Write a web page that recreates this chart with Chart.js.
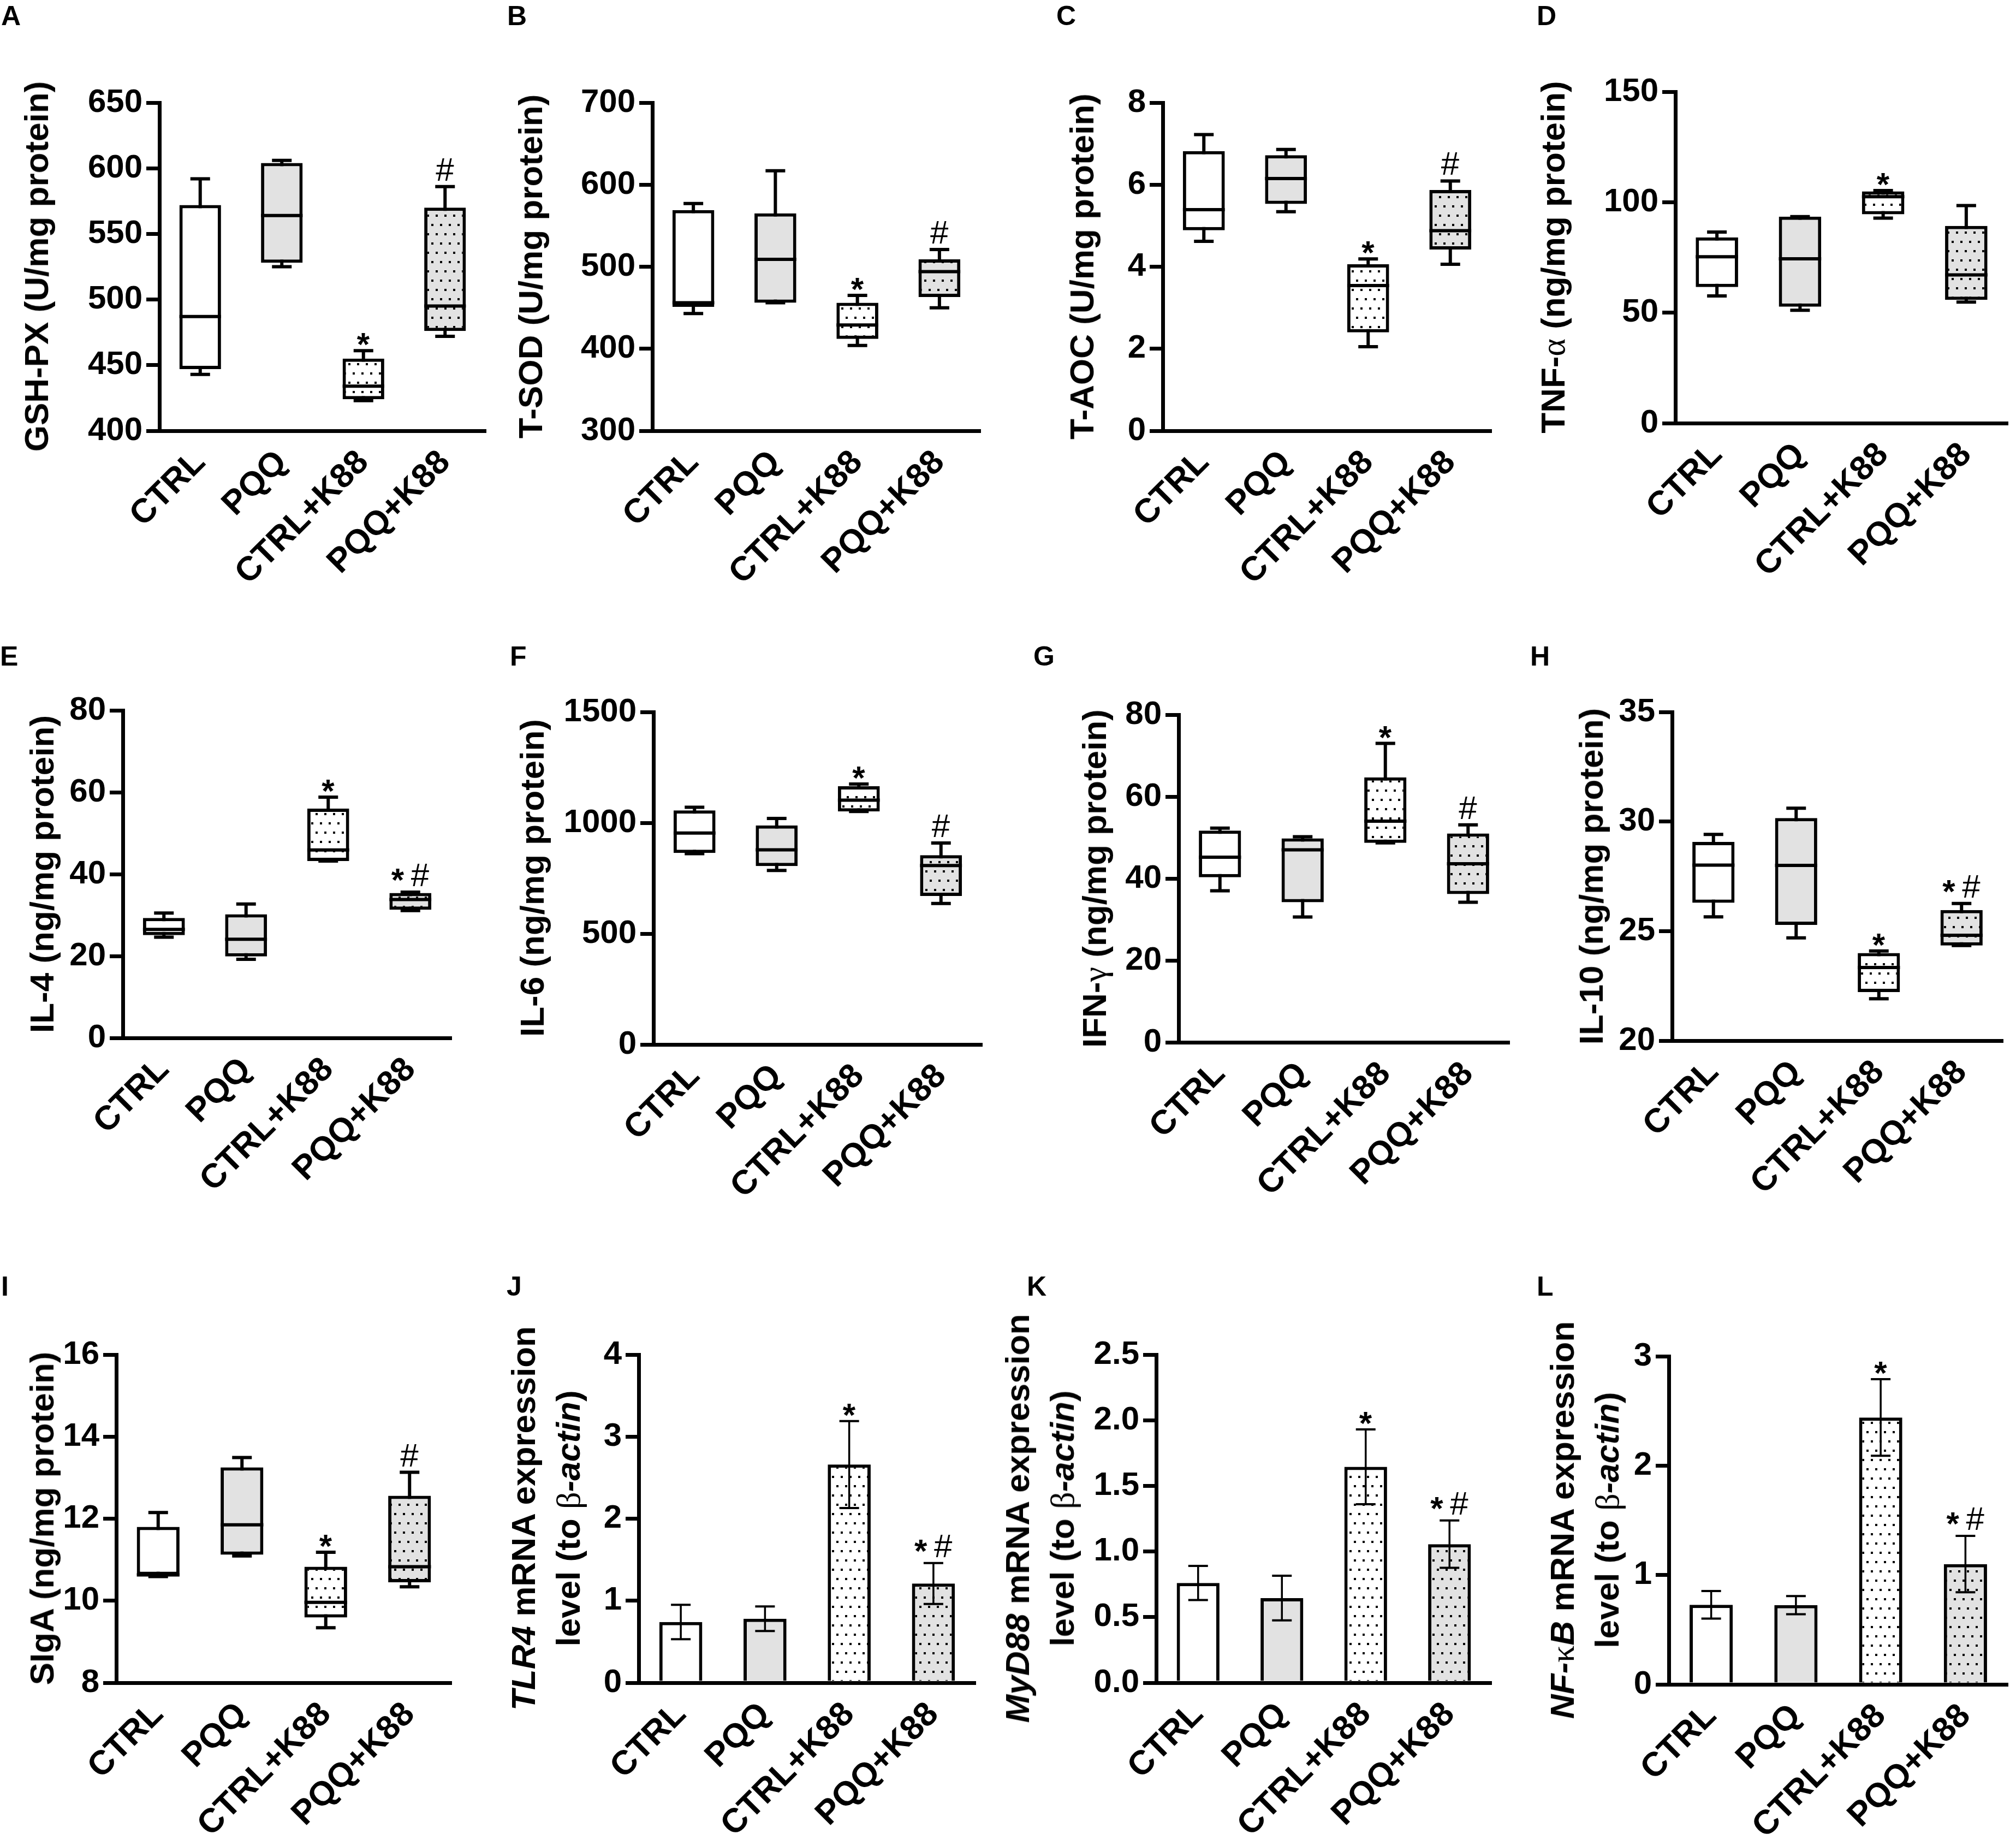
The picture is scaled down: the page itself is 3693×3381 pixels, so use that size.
<!DOCTYPE html>
<html>
<head>
<meta charset="utf-8">
<script src="https://cdn.jsdelivr.net/npm/chart.js@4.4.1/dist/chart.umd.min.js"></script>
<style>
  body { margin: 0; background: #fff; }
  #page { position: relative; width: 3693px; height: 3381px; background: #fff; overflow: hidden; }
  #page canvas { position: absolute; }
  .letter { position: absolute; font: bold 50px "Liberation Sans", Arial, sans-serif; line-height: 50px; color: #000; }
  .ytitle { position: absolute; font: bold 62px "Liberation Sans", Arial, sans-serif; line-height: 82px;
            white-space: nowrap; text-align: center; color: #000; transform: translate(-50%, -50%) rotate(-90deg); }
  .ytitle i { font-style: italic; }
  .ytitle .gr { font-family: "Liberation Serif", "DejaVu Serif", serif; font-weight: normal; }
</style>
</head>
<body>
<div id="page"></div>
<script>
//Groups on every x axis
const groups = ["CTRL", "PQQ", "CTRL+K88", "PQQ+K88"];

//Box plot values: min, Q1, median, Q3, max
const gshMin = [443, 525, 423, 472];
const gshQ1 = [447, 528, 424, 476];
const gshMed = [487, 564, 434, 495];
const gshQ3 = [572, 604, 455, 570];
const gshMax = [592, 606, 461, 586];
const gshTicks = [400, 450, 500, 550, 600, 650];

const sodMin = [443, 456, 404, 450];
const sodQ1 = [451, 456, 412, 463];
const sodMed = [456, 509, 429, 494];
const sodQ3 = [569, 565, 456, 509];
const sodMax = [577, 617, 465, 521];
const sodTicks = [300, 400, 500, 600, 700];

const aocMin = [4.62, 5.34, 2.05, 4.06];
const aocQ1 = [4.89, 5.53, 2.4, 4.42];
const aocMed = [5.39, 6.15, 3.54, 4.88];
const aocQ3 = [6.82, 6.72, 4.06, 5.87];
const aocMax = [7.22, 6.86, 4.19, 6.09];
const aocTicks = [0, 2, 4, 6, 8];

const tnfMin = [57.6, 51.1, 92.8, 54.8];
const tnfQ1 = [61.6, 52.7, 94.5, 55.8];
const tnfMed = [75.3, 74.4, 102.5, 67.1];
const tnfQ3 = [84.1, 93.5, 104.9, 89.3];
const tnfMax = [86.5, 93.5, 105.3, 98.5];
const tnfTicks = [0, 50, 100, 150];

const il4Min = [24.6, 19.2, 43.2, 31.1];
const il4Q1 = [25.1, 19.9, 43.2, 31.3];
const il4Med = [26.5, 24.1, 45.9, 33.8];
const il4Q3 = [29.3, 30.2, 56.0, 35.4];
const il4Max = [30.5, 32.7, 58.8, 35.6];
const il4Ticks = [0, 20, 40, 60, 80];

const il6Min = [861, 785, 1051, 636];
const il6Q1 = [864, 805, 1051, 670];
const il6Med = [954, 878, 1102, 807];
const il6Q3 = [1056, 988, 1165, 854];
const il6Max = [1070, 1020, 1175, 909];
const il6Ticks = [0, 500, 1000, 1500];

const ifnMin = [37.0, 30.6, 48.7, 34.2];
const ifnQ1 = [40.3, 34.2, 48.7, 36.2];
const ifnMed = [45.2, 47.0, 54.0, 43.6];
const ifnQ3 = [51.7, 49.8, 64.7, 51.0];
const ifnMax = [52.3, 50.2, 73.0, 53.1];
const ifnTicks = [0, 20, 40, 60, 80];

const il10Min = [25.65, 24.69, 21.91, 24.34];
const il10Q1 = [26.29, 25.28, 22.22, 24.34];
const il10Med = [28.01, 28.0, 23.34, 24.81];
const il10Q3 = [29.07, 30.16, 24.0, 25.96];
const il10Max = [29.41, 30.61, 24.09, 26.26];
const il10Ticks = [20, 25, 30, 35];

const sigaMin = [10.59, 11.09, 9.34, 10.34];
const sigaQ1 = [10.63, 11.12, 9.59, 10.45];
const sigaMed = [10.63, 11.85, 9.96, 10.83];
const sigaQ3 = [11.8, 13.25, 10.83, 12.56];
const sigaMax = [12.15, 13.49, 11.18, 13.13];
const sigaTicks = [8, 10, 12, 14, 16];

//Bar chart values: mean and error (SEM)
const tlr4Mean = [0.74, 0.78, 2.66, 1.21];
const tlr4Err = [0.21, 0.15, 0.53, 0.25];
const tlr4Ticks = [0, 1, 2, 3, 4];

const myd88Mean = [0.76, 0.645, 1.645, 1.056];
const myd88Err = [0.13, 0.17, 0.285, 0.18];
const myd88Ticks = [0, 0.5, 1.0, 1.5, 2.0, 2.5];

const nfkbMean = [0.728, 0.725, 2.44, 1.1];
const nfkbErr = [0.126, 0.083, 0.35, 0.258];
const nfkbTicks = [0, 1, 2, 3];

//Significance marks above each group
const marksA = ["", "", "*", "#"];
const marksB = ["", "", "*", "*#"];
const marksD = ["", "", "*", ""];

const FONT = '"Liberation Sans", Arial, sans-serif';
const GRAY = "#e2e2e2";
const page = document.getElementById("page");

//Dotted fill like the original hatch
function dotPattern(bg) {
  const c = document.createElement("canvas");
  c.width = 16;
  c.height = 34;
  const g = c.getContext("2d");
  g.fillStyle = bg;
  g.fillRect(0, 0, 16, 34);
  g.fillStyle = "#000";
  g.fillRect(2, 2, 4, 4);
  g.fillRect(10, 19, 4, 4);
  return g.createPattern(c, "repeat");
}
const fills = ["#ffffff", GRAY, dotPattern("#ffffff"), dotPattern(GRAY)];

//Panel table: data refs + where each panel sits (axis left, right, top, bottom)
const panels = [
  { letter: "A", at: [2, 10], box: [292, 890, 188, 789], titleAt: [67, 488], title: "GSH-PX (U/mg protein)",
    stats: [gshMin, gshQ1, gshMed, gshQ3, gshMax], ticks: gshTicks, marks: marksA },
  { letter: "B", at: [929, 10], box: [1195, 1796, 188, 789], titleAt: [972, 488], title: "T-SOD (U/mg protein)",
    stats: [sodMin, sodQ1, sodMed, sodQ3, sodMax], ticks: sodTicks, marks: marksA },
  { letter: "C", at: [1935, 10], box: [2130, 2732, 188, 789], titleAt: [1982, 488], title: "T-AOC (U/mg protein)",
    stats: [aocMin, aocQ1, aocMed, aocQ3, aocMax], ticks: aocTicks, marks: marksA },
  { letter: "D", at: [2815, 10], box: [3069, 3678, 168, 775], titleAt: [2845, 471],
    title: 'TNF-<span class="gr">α</span> (ng/mg protein)',
    stats: [tnfMin, tnfQ1, tnfMed, tnfQ3, tnfMax], ticks: tnfTicks, marks: marksD },
  { letter: "E", at: [0, 1183], box: [225, 827, 1301, 1901], titleAt: [77, 1601], title: "IL-4 (ng/mg protein)",
    stats: [il4Min, il4Q1, il4Med, il4Q3, il4Max], ticks: il4Ticks, marks: marksB },
  { letter: "F", at: [934, 1183], box: [1197, 1799, 1304, 1913], titleAt: [975, 1608], title: "IL-6 (ng/mg protein)",
    stats: [il6Min, il6Q1, il6Med, il6Q3, il6Max], ticks: il6Ticks, marks: marksA },
  { letter: "G", at: [1893, 1183], box: [2159, 2765, 1309, 1909], titleAt: [2005, 1609],
    title: 'IFN-<span class="gr">γ</span> (ng/mg protein)',
    stats: [ifnMin, ifnQ1, ifnMed, ifnQ3, ifnMax], ticks: ifnTicks, marks: marksA },
  { letter: "H", at: [2803, 1183], box: [3063, 3669, 1304, 1906], titleAt: [2915, 1605], title: "IL-10 (ng/mg protein)",
    stats: [il10Min, il10Q1, il10Med, il10Q3, il10Max], ticks: il10Ticks, marks: marksB },
  { letter: "I", at: [2, 2337], box: [213, 827, 2481, 3082], titleAt: [77, 2781], title: "SIgA (ng/mg protein)",
    stats: [sigaMin, sigaQ1, sigaMed, sigaQ3, sigaMax], ticks: sigaTicks, marks: marksA },
  { letter: "J", at: [928, 2337], box: [1170, 1787, 2481, 3082], titleAt: [1000, 2781],
    title: '<i>TLR4</i> mRNA expression<br>level (to <span class="gr">β</span><i>-actin</i>)',
    mean: tlr4Mean, err: tlr4Err, ticks: tlr4Ticks, marks: marksB },
  { letter: "K", at: [1881, 2337], box: [2118, 2732, 2481, 3082], titleAt: [1905, 2781],
    title: '<i>MyD88</i> mRNA expression<br>level (to <span class="gr">β</span><i>-actin</i>)',
    mean: myd88Mean, err: myd88Err, ticks: myd88Ticks, marks: marksB, decimals: 1 },
  { letter: "L", at: [2815, 2337], box: [3057, 3678, 2484, 3085], titleAt: [2903, 2784],
    title: '<i>NF-</i><span class="gr">κ</span><i>B</i> mRNA expression<br>level (to <span class="gr">β</span><i>-actin</i>)',
    mean: nfkbMean, err: nfkbErr, ticks: nfkbTicks, marks: marksB }
];

//Draw "*", "#" or "*#" above a point
function drawMark(ctx, text, x, top) {
  if (!text) return;
  const parts = text.split("").map((ch) => {
    ctx.font = ch === "*" ? "bold 60px " + FONT : "60px " + FONT;
    return { ch, font: ctx.font, m: ctx.measureText(ch) };
  });
  const gap = 12;
  const widths = parts.map((q) => q.m.actualBoundingBoxLeft + q.m.actualBoundingBoxRight);
  const total = widths.reduce((a, b) => a + b, 0) + gap * (parts.length - 1);
  const hash = parts.find((q) => q.ch === "#");
  const bottom = top - 8;
  const mid = hash ? bottom - (hash.m.actualBoundingBoxAscent + hash.m.actualBoundingBoxDescent) / 2 : null;
  let cx = x - total / 2;
  ctx.fillStyle = "#000";
  ctx.textAlign = "left";
  ctx.textBaseline = "alphabetic";
  parts.forEach((q, i) => {
    ctx.font = q.font;
    const h = q.m.actualBoundingBoxAscent + q.m.actualBoundingBoxDescent;
    let base;
    if (q.ch === "#") base = bottom - q.m.actualBoundingBoxDescent;
    else if (mid !== null) base = mid + h / 2 - q.m.actualBoundingBoxDescent;
    else base = top - 6 - q.m.actualBoundingBoxDescent;
    ctx.fillText(q.ch, cx + q.m.actualBoundingBoxLeft, base);
    cx += widths[i] + gap;
  });
}

//Whiskers, medians, error bars and marks drawn through the y scale
function overlayPlugin(p) {
  const isBox = !!p.stats;
  return {
    id: "overlay",
    beforeDatasetsDraw(chart) {
      if (!isBox) return;
      const ctx = chart.ctx;
      const y = chart.scales.y;
      ctx.save();
      ctx.strokeStyle = "#000";
      ctx.lineWidth = 6;
      chart.getDatasetMeta(0).data.forEach((bar, i) => {
        ctx.beginPath();
        ctx.moveTo(bar.x, y.getPixelForValue(p.stats[0][i]));
        ctx.lineTo(bar.x, y.getPixelForValue(p.stats[4][i]));
        ctx.stroke();
      });
      ctx.restore();
    },
    afterDatasetsDraw(chart) {
      const ctx = chart.ctx;
      const y = chart.scales.y;
      ctx.save();
      ctx.strokeStyle = "#000";
      chart.getDatasetMeta(0).data.forEach((bar, i) => {
        const capHalf = 18;
        let lo, hi;
        if (isBox) {
          lo = p.stats[0][i];
          hi = p.stats[4][i];
          ctx.lineWidth = 6;
          const ym = y.getPixelForValue(p.stats[2][i]);
          ctx.beginPath();
          ctx.moveTo(bar.x - bar.width / 2, ym);
          ctx.lineTo(bar.x + bar.width / 2, ym);
          ctx.stroke();
        } else {
          lo = p.mean[i] - p.err[i];
          hi = p.mean[i] + p.err[i];
          ctx.lineWidth = 3.5;
          ctx.beginPath();
          ctx.moveTo(bar.x, y.getPixelForValue(lo));
          ctx.lineTo(bar.x, y.getPixelForValue(hi));
          ctx.stroke();
          ctx.lineWidth = 4;
        }
        [lo, hi].forEach((v) => {
          const yp = y.getPixelForValue(v);
          ctx.beginPath();
          ctx.moveTo(bar.x - capHalf, yp);
          ctx.lineTo(bar.x + capHalf, yp);
          ctx.stroke();
        });
        drawMark(ctx, p.marks[i], bar.x, y.getPixelForValue(hi) - 3);
      });
      ctx.restore();
    }
  };
}

//Build one Chart.js chart per panel
function makePanel(p) {
  const [L, R, T, B] = p.box;
  const left = Math.min(240, L);
  const topPad = 120;
  const bottomH = 300;
  const cw = R - L + left + 15;
  const ch = B - T + topPad + bottomH;
  const canvas = document.createElement("canvas");
  canvas.width = cw;
  canvas.height = ch;
  canvas.style.left = L - left + "px";
  canvas.style.top = T - topPad + "px";
  canvas.style.width = cw + "px";
  canvas.style.height = ch + "px";
  page.appendChild(canvas);

  const data = p.stats ? groups.map((g, i) => [p.stats[1][i], p.stats[3][i]]) : p.mean;

  new Chart(canvas, {
    type: "bar",
    data: {
      labels: groups,
      datasets: [{
        data,
        backgroundColor: fills,
        borderColor: "#000",
        borderWidth: 6,
        borderSkipped: p.stats ? false : "start",
        barPercentage: 0.51,
        categoryPercentage: 1
      }]
    },
    options: {
      responsive: false,
      animation: false,
      devicePixelRatio: 1,
      events: [],
      layout: { padding: { left: 0, top: topPad, right: 15, bottom: 0 } },
      plugins: { legend: { display: false }, tooltip: { enabled: false } },
      scales: {
        x: {
          grid: { display: false },
          border: { display: true, width: 7, color: "#000" },
          ticks: {
            autoSkip: false,
            minRotation: 45,
            maxRotation: 45,
            padding: 14,
            color: "#000",
            font: { family: FONT, size: 62, weight: "bold" }
          },
          afterFit: (s) => { s.height = bottomH; }
        },
        y: {
          min: p.ticks[0],
          max: p.ticks[p.ticks.length - 1],
          afterBuildTicks: (s) => { s.ticks = p.ticks.map((v) => ({ value: v })); },
          grid: { display: true, drawOnChartArea: false, drawTicks: true, tickLength: 24, lineWidth: 7, color: "#000" },
          border: { display: true, width: 7, color: "#000" },
          ticks: {
            padding: 7,
            color: "#000",
            font: { family: FONT, size: 60, weight: "bold" },
            callback: (v) => (p.decimals ? Number(v).toFixed(p.decimals) : v)
          },
          afterFit: (s) => { s.width = left; }
        }
      }
    },
    plugins: [overlayPlugin(p)]
  });

  //Panel letter
  const lt = document.createElement("div");
  lt.className = "letter";
  lt.textContent = p.letter;
  lt.style.left = p.at[0] + "px";
  lt.style.top = p.at[1] - 6.5 + "px";
  page.appendChild(lt);

  //Rotated y axis title
  const tt = document.createElement("div");
  tt.className = "ytitle";
  tt.innerHTML = p.title;
  tt.style.left = p.titleAt[0] + "px";
  tt.style.top = p.titleAt[1] + "px";
  page.appendChild(tt);
}

panels.forEach(makePanel);
</script>
</body>
</html>
